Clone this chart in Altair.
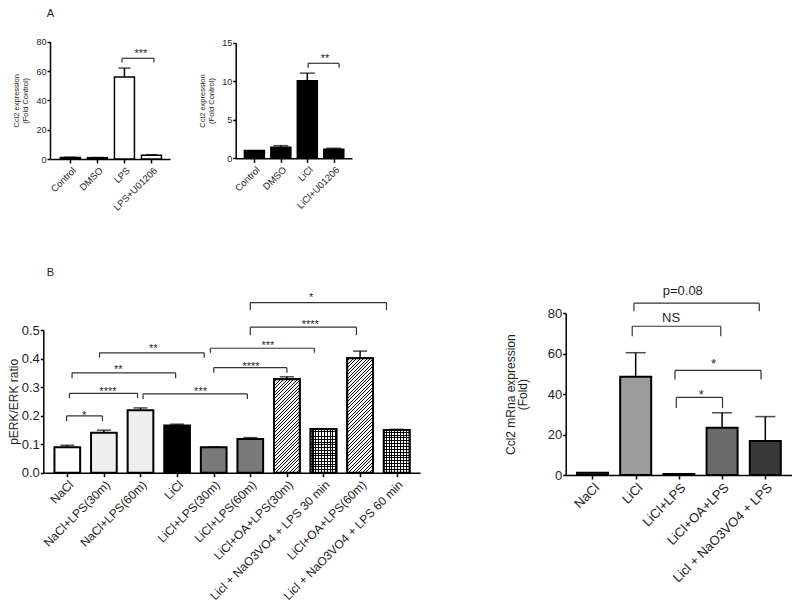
import json
import altair as alt
import pandas as pd

W, H = 784, 599
FONT = "Liberation Sans"
INK = "#1e1e1e"

# ---------------- data ----------------
a1_cats = ["Control", "DMSO", "LPS", "LPS+U01206"]
a1_vals = [1.0, 0.9, 56.0, 2.6]
a1_upper = [1.2, 1.0, 62.0, 2.9]
a1_br_start = [1.91]
a1_br_end = [3.09]
a1_br_top = [68.7]
a1_br_bottom = [65.8]
a1_br_text = ["***"]
a1_br_tx = [2.61]
a1_br_ty = [69.8]

a2_cats = ["Control", "DMSO", "LiCl", "LiCl+U01206"]
a2_vals = [1.0, 1.43, 10.05, 1.17]
a2_upper = [1.0, 1.64, 11.05, 1.3]
a2_br_start = [2.03]
a2_br_end = [3.2]
a2_br_top = [12.33]
a2_br_bottom = [11.76]
a2_br_text = ["**"]
a2_br_tx = [2.67]
a2_br_ty = [12.5]

b1_cats = ["NaCl", "NaCl+LPS(30m)", "NaCl+LPS(60m)", "LiCl", "LiCl+LPS(30m)",
           "LiCl+LPS(60m)", "LiCl+OA+LPS(30m)", "Licl + NaO3VO4 + LPS 30 min",
           "LiCl+OA+LPS(60m)", "Licl + NaO3VO4 + LPS 60 min"]
b1_vals = [0.089, 0.140, 0.219, 0.165, 0.089, 0.118, 0.327, 0.153, 0.401, 0.150]
b1_upper = [0.096, 0.149, 0.227, 0.170, 0.090, 0.123, 0.336, 0.154, 0.426, 0.152]
b1_br_start = [-0.02, 0.06, 2.07, 0.13, 0.88, 4.0, 3.91, 5.0, 5.0]
b1_br_end = [0.96, 1.92, 4.92, 2.96, 3.74, 6.0, 6.75, 7.9, 8.72]
b1_br_top = [0.199, 0.278, 0.276, 0.350, 0.420, 0.368, 0.436, 0.510, 0.596]
b1_br_bottom = [0.181, 0.261, 0.258, 0.331, 0.403, 0.350, 0.420, 0.482, 0.570]
b1_br_text = ["*", "****", "***", "**", "**", "****", "***", "****", "*"]
b1_br_tx = [0.46, 1.11, 3.64, 1.39, 2.35, 5.02, 5.48, 6.64, 6.66]
b1_br_ty = [0.189, 0.271, 0.271, 0.349, 0.423, 0.361, 0.434, 0.507, 0.603]

b2_cats = ["NaCl", "LiCl", "LiCl+LPS", "LiCl+OA+LPS", "Licl + NaO3VO4 + LPS"]
b2_vals = [1.1, 48.6, 0.5, 23.4, 16.8]
b2_upper = [1.1, 60.5, 0.5, 30.8, 28.9]
b2_br_start = [0.96, 0.92, 1.91, 1.94]
b2_br_end = [3.86, 2.97, 3.90, 3.01]
b2_br_top = [85.0, 73.6, 51.8, 38.4]
b2_br_bottom = [81.0, 68.6, 47.2, 33.1]
b2_br_text = ["p=0.08", "NS", "*", "*"]
b2_br_tx = [2.09, 1.82, 2.80, 2.52]
b2_br_ty = [89.0, 75.5, 52.9, 37.5]

# ---------------- styles ----------------
a1_fill = ["white"] * 4
a2_fill = ["black"] * 4
b1_fill = ["white", "#efefef", "#efefef", "black", "#7a7a7a", "#7a7a7a",
           "diag", "grid", "diag", "grid"]
b2_fill = ["#555555", "#9c9c9c", "#555555", "#6a6a6a", "#383838"]

# panel geometry in chart pixels (page minus the 8px margin)
GEOM = {
    "A1": dict(x_range=[42, 162], x_domain=[-0.568, 3.5], y_range=[151, 33.7],
               y_domain=[0, 80], y_values=[0, 20, 40, 60, 80], y_fmt="d", bw=20, cap=12,
               sw=1.5, tick_fs=9, xlab_fs=9.5, title_fs=7.5, title_lh=9.5, title_pad=6,
               br_fs=11, y_title=["Ccl2 expression", "(Fold Control)"]),
    "A2": dict(x_range=[227.7, 344], x_domain=[-0.517, 3.5], y_range=[150.3, 34.7],
               y_domain=[0, 15], y_values=[0, 5, 10, 15], y_fmt="d", bw=20, cap=15,
               sw=1.5, tick_fs=9, xlab_fs=9.5, title_fs=7.5, title_lh=9.5, title_pad=6,
               br_fs=11, y_title=["Ccl2 expression", "(Fold Control)"]),
    "B1": dict(x_range=[35.3, 412], x_domain=[-0.519, 9.5], y_range=[464.7, 322],
               y_domain=[0, 0.5], y_values=[0, 0.1, 0.2, 0.3, 0.4, 0.5], y_fmt=".1f", bw=25.7,
               cap=14, sw=2, tick_fs=13, xlab_fs=12, title_fs=12, title_lh=14, title_pad=1,
               br_fs=11, y_title="pERK/ERK ratio"),
    "B2": dict(x_range=[557.7, 783.9], x_domain=[-0.504, 4.5], y_range=[467, 305.3],
               y_domain=[0, 80], y_values=[0, 20, 40, 60, 80], y_fmt="d", bw=31, cap=20,
               sw=2, tick_fs=13, xlab_fs=13, title_fs=12, title_lh=12, title_pad=18,
               br_fs=13, y_title=["Ccl2 mRna expression", "(Fold)"]),
}


def stripe_stops(n, frac, line, bg):
    stops = []
    for i in range(n):
        a = i / n
        b = (i + 1) / n
        m = b - frac / n
        stops += [{"offset": round(a, 5), "color": bg}, {"offset": round(m, 5), "color": bg},
                  {"offset": round(m, 5), "color": line}, {"offset": round(b, 5), "color": line}]
    return stops


def diag_gradient(w, h, period=2.4, line=0.7):
    r = h / w
    k = (1 + r) / (1 + r * r)
    n = max(1, round((w + h) / 2 ** 0.5 / period))
    return {"gradient": "linear", "x1": 0, "y1": 0, "x2": k, "y2": k * r,
            "stops": stripe_stops(n, line / period, "black", "white")}


def vgrid_gradient(w, period=2.8, line=1.0):
    n = max(1, round(w / period))
    return {"gradient": "linear", "x1": 0, "y1": 0, "x2": 1, "y2": 0,
            "stops": stripe_stops(n, line / period, "black", "white")}


def hgrid_gradient(h, period=2.8, line=1.0):
    n = max(1, round(h / period))
    return {"gradient": "linear", "x1": 0, "y1": 0, "x2": 0, "y2": 1,
            "stops": stripe_stops(n, line / period, "black", "rgba(255,255,255,0)")}


def make_panel(cats, vals, upper, fills, start, end, top, bottom, texts, tx, ty, g):
    n = len(cats)
    df = pd.DataFrame({"idx": list(range(n)), "cat": cats, "val": vals, "upper": upper,
                       "fill": ["white" if f in ("diag", "grid") else f for f in fills]})
    xs = alt.Scale(domain=g["x_domain"], range=g["x_range"], nice=False, zero=False)
    ys = alt.Scale(domain=g["y_domain"], range=g["y_range"], nice=False, zero=False)
    axis_common = dict(grid=False, domainColor="black", domainWidth=1.5, tickColor="black",
                       tickWidth=1.5, labelColor=INK, labelOverlap=False, labelFlush=False,
                       labelBound=False)
    yaxis = alt.Axis(orient="left", offset=-g["x_range"][0], values=g["y_values"],
                     format=g["y_fmt"], title=g["y_title"], labelFontSize=g["tick_fs"],
                     tickSize=3, labelPadding=1,
                     titleFontSize=g["title_fs"], titleFontWeight="normal", titleColor=INK,
                     titlePadding=g["title_pad"], titleLineHeight=g["title_lh"], **axis_common)
    xaxis = alt.Axis(orient="bottom", offset=g["y_range"][0] - H, values=list(range(n)),
                     labelExpr=json.dumps(cats) + "[datum.value]", labelAngle=-45,
                     tickSize=4, labelPadding=2,
                     title=None, labelFontSize=g["xlab_fs"], **axis_common)

    # every layer carries the same axis definition so the shared axes merge cleanly
    def X(f):
        return alt.X(f, type="quantitative", scale=xs, axis=xaxis)

    def Y(f):
        return alt.Y(f, type="quantitative", scale=ys, axis=yaxis)

    layers = [alt.Chart(df).mark_bar(size=g["bw"], stroke="black", strokeWidth=g["sw"],
                                     orient="vertical").encode(
        x=X("idx"), y=Y("val"), fill=alt.Fill("fill:N", scale=None))]

    px_per_unit = (g["y_range"][0] - g["y_range"][1]) / (g["y_domain"][1] - g["y_domain"][0])
    for i, f in enumerate(fills):
        if f not in ("diag", "grid"):
            continue
        h = vals[i] * px_per_unit
        base = alt.Chart(df).transform_filter(alt.datum.idx == i)
        if f == "diag":
            layers.append(base.mark_bar(size=g["bw"], orient="vertical",
                                        fill=diag_gradient(g["bw"], h), stroke="black",
                                        strokeWidth=g["sw"]).encode(x=X("idx"), y=Y("val")))
        else:
            layers.append(base.mark_bar(size=g["bw"], orient="vertical",
                                        fill=vgrid_gradient(g["bw"])).encode(
                x=X("idx"), y=Y("val")))
            layers.append(base.mark_bar(size=g["bw"], orient="vertical",
                                        fill=hgrid_gradient(h), stroke="black",
                                        strokeWidth=g["sw"]).encode(x=X("idx"), y=Y("val")))

    edf = df[df["upper"] > df["val"] + 1e-9]
    layers.append(alt.Chart(edf).mark_rule(color="black", strokeWidth=1.5).encode(
        x=X("idx"), y=Y("val"), y2="upper:Q"))
    layers.append(alt.Chart(edf).mark_tick(color="black", orient="horizontal", size=g["cap"],
                                           thickness=1.5).encode(x=X("idx"), y=Y("upper")))

    bdf = pd.DataFrame({"s": start, "e": end, "top": top})
    layers.append(alt.Chart(bdf).mark_rule(color="#333333", strokeWidth=1.2).encode(
        x=X("s"), x2="e:Q", y=Y("top")))
    ldf = pd.DataFrame({"lx": list(start) + list(end), "ly1": list(top) * 2,
                        "ly2": list(bottom) * 2})
    layers.append(alt.Chart(ldf).mark_rule(color="#333333", strokeWidth=1.2).encode(
        x=X("lx"), y=Y("ly1"), y2="ly2:Q"))
    tdf = pd.DataFrame({"tx": tx, "ty": ty, "label": texts})
    layers.append(alt.Chart(tdf).mark_text(color=INK, baseline="alphabetic", align="center",
                                           fontSize=g["br_fs"]).encode(
        x=X("tx"), y=Y("ty"), text="label:N"))
    return alt.layer(*layers)


pA1 = make_panel(a1_cats, a1_vals, a1_upper, a1_fill, a1_br_start, a1_br_end, a1_br_top,
                 a1_br_bottom, a1_br_text, a1_br_tx, a1_br_ty, GEOM["A1"])
pA2 = make_panel(a2_cats, a2_vals, a2_upper, a2_fill, a2_br_start, a2_br_end, a2_br_top,
                 a2_br_bottom, a2_br_text, a2_br_tx, a2_br_ty, GEOM["A2"])
pB1 = make_panel(b1_cats, b1_vals, b1_upper, b1_fill, b1_br_start, b1_br_end, b1_br_top,
                 b1_br_bottom, b1_br_text, b1_br_tx, b1_br_ty, GEOM["B1"])
pB2 = make_panel(b2_cats, b2_vals, b2_upper, b2_fill, b2_br_start, b2_br_end, b2_br_top,
                 b2_br_bottom, b2_br_text, b2_br_tx, b2_br_ty, GEOM["B2"])

letter_df = pd.DataFrame({"t": ["A", "B"]})


def letter(t, x, y):
    return alt.Chart(letter_df).transform_filter(alt.datum.t == t).mark_text(
        fontSize=11, color=INK, align="left", baseline="alphabetic").encode(
        x=alt.value(x), y=alt.value(y), text="t:N")


chart = alt.layer(pA1, pA2, pB1, pB2, letter("A", 38.7, 8.7), letter("B", 38.7, 267.7)
                  ).resolve_scale(x="independent", y="independent").properties(
    width=W, height=H, padding=0, autosize=alt.AutoSizeParams(type="none")
).configure(font=FONT).configure_view(stroke=None)

chart.save("out.html", embed_options={"renderer": "svg", "actions": False})
